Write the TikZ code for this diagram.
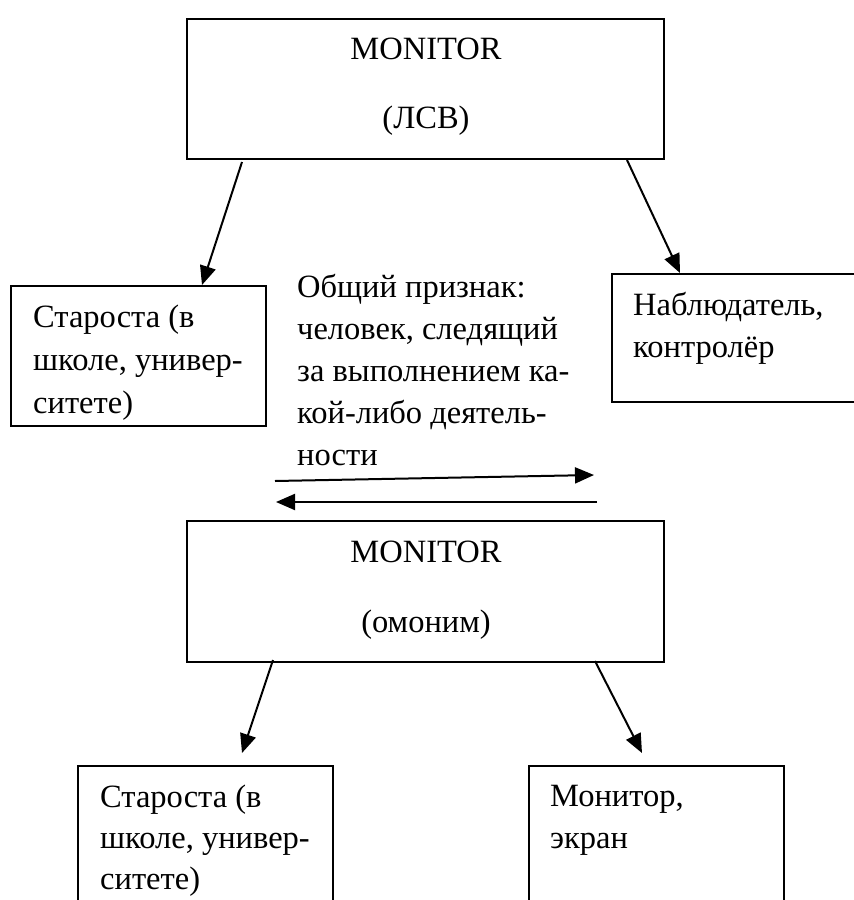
\documentclass[tikz,border=0pt]{standalone}
\usepackage{fontspec}
\setmainfont{Liberation Serif}
\usetikzlibrary{arrows.meta,calc}
\begin{document}
\begin{tikzpicture}[x=1pt,y=-1pt,
  box/.style={draw, line width=1.4pt, rectangle, anchor=north west, inner sep=0pt, outer sep=0pt},
  txt/.style={anchor=base west, inner sep=0pt, font=\fontsize{32.5}{43}\selectfont},
  ctxt/.style={anchor=base, inner sep=0pt, font=\fontsize{32.5}{43}\selectfont},
  arr/.style={line width=2pt, -{Triangle[length=19pt,width=16pt]}}]
\useasboundingbox (0,0) rectangle (854,900);
\clip (0,0) rectangle (854,900);
% boxes
\node[box, minimum width=477pt, minimum height=140pt] (top) at (187,19) {};
\node[box, minimum width=255pt, minimum height=140pt] (lb) at (11,286) {};
\node[box, minimum width=258pt, minimum height=128pt] (nab) at (612,274) {};
\node[box, minimum width=477pt, minimum height=141pt] (mid) at (187,521) {};
\node[box, minimum width=255pt, minimum height=170pt] (bl) at (78,766) {};
\node[box, minimum width=255pt, minimum height=170pt] (br) at (529,766) {};
% texts
\node[ctxt] (t1) at (426,59) {MONITOR};
\node[ctxt] (t2) at (426,128) {(ЛСВ)};
\node[ctxt] (m1) at (426,562) {MONITOR};
\node[ctxt] (m2) at (426,632) {(омоним)};
\node[txt] (l1) at (33,327) {Староста (в};
\node[txt] (l2) at (33,370) {школе, универ-};
\node[txt] (l3) at (33,413) {ситете)};
\node[txt] (c1) at (297,297) {Общий признак:};
\node[txt] (c2) at (297,339) {человек, следящий};
\node[txt] (c3) at (297,381) {за выполнением ка-};
\node[txt] (c4) at (297,423) {кой-либо деятель-};
\node[txt] (c5) at (297,465) {ности};
\node[txt] (n1) at (633,315) {Наблюдатель,};
\node[txt] (n2) at (633,357) {контролёр};
\node[txt] (b1) at (100,807) {Староста (в};
\node[txt] (b2) at (100,848) {школе, универ-};
\node[txt] (b3) at (100,889) {ситете)};
\node[txt] (r1) at (550,806) {Монитор,};
\node[txt] (r2) at (550,848) {экран};
% connectors
\draw[arr] ($(top.south west)+(55,3)$) -- ($(lb.north west)+(191,-1)$);
\draw[arr] ($(top.south east)+(-37,1)$) -- ($(nab.north west)+(68,-1)$);
\coordinate (h1s) at (275,481);
\coordinate (h1e) at (594,475);
\coordinate (h2s) at (597,502);
\coordinate (h2e) at (276,502);
\draw[arr] (h1s) -- (h1e);
\draw[arr] (h2s) -- (h2e);
\draw[arr] ($(mid.south west)+(86,-2)$) -- ($(bl.north west)+(164,-13)$);
\draw[arr] ($(mid.south east)+(-69,-1)$) -- ($(br.north west)+(113,-13)$);
\end{tikzpicture}
\end{document}
